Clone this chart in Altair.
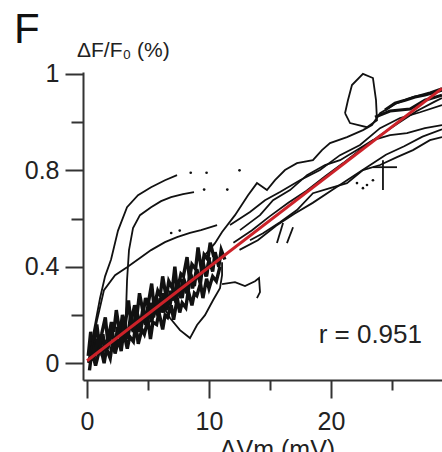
import altair as alt
import pandas as pd

# ---------------- data ----------------
# steep upper curve
a_x = [0.08, 0.33, 0.57, 1.07, 1.48, 1.97, 2.54, 3.28, 4.18, 5.25, 6.39, 7.38]
a_y = [0.004, 0.054, 0.137, 0.27, 0.36, 0.43, 0.55, 0.647, 0.697, 0.73, 0.759, 0.78]
# second curve (vertical rise then plateau)
b_x = [3.11, 3.2, 3.28, 3.44, 3.77, 4.34, 5.25, 6.07, 6.89, 7.87, 8.77]
b_y = [0.095, 0.22, 0.344, 0.469, 0.56, 0.614, 0.647, 0.672, 0.689, 0.701, 0.71]
# third, lower curve
c_x = [0.41, 0.82, 1.39, 2.30, 3.28, 4.34, 5.25, 6.39, 7.38, 8.44, 9.34, 10.66]
c_y = [0.075, 0.178, 0.303, 0.365, 0.398, 0.436, 0.469, 0.502, 0.523, 0.54, 0.552, 0.573]
# dense noisy cloud (jagged traces)
d_x = [0.1, 0.3, 0.5, 0.8, 1.0, 1.2, 1.5, 1.7, 2.0, 2.2, 2.4, 2.7, 2.9, 3.1, 3.4, 3.6, 3.9, 4.1, 4.3, 4.6, 4.8, 5.0,
       5.3, 5.5, 5.8, 6.0, 6.2, 6.5, 6.7, 7.0, 7.2, 7.4, 7.7, 7.9, 8.2, 8.4, 8.6, 8.9, 9.1, 9.4, 9.6, 9.9, 10.1, 10.4]
d_y = [0.03, 0.13, 0.06, 0.16, 0.08, 0.12, 0.19, 0.09, 0.17, 0.13, 0.22, 0.12, 0.20, 0.15, 0.26, 0.17, 0.24, 0.20, 0.29,
       0.21, 0.27, 0.24, 0.33, 0.23, 0.30, 0.28, 0.36, 0.27, 0.34, 0.31, 0.40, 0.30, 0.37, 0.36, 0.44, 0.35, 0.41, 0.39,
       0.48, 0.38, 0.45, 0.43, 0.50, 0.44]
e_x = [0.2, 0.4, 0.7, 0.9, 1.1, 1.4, 1.6, 1.9, 2.1, 2.3, 2.6, 2.8, 3.0, 3.3, 3.5, 3.8, 4.0, 4.2, 4.5, 4.7, 5.0, 5.2,
       5.4, 5.7, 5.9, 6.2, 6.4, 6.6, 6.9, 7.1, 7.4, 7.6, 7.8, 8.1, 8.3, 8.6, 8.8, 9.0, 9.3, 9.5, 9.8, 10.0, 10.3, 10.6, 10.9]
e_y = [-0.03, 0.05, -0.01, 0.03, 0.07, 0.0, 0.06, 0.02, 0.09, 0.04, 0.10, 0.05, 0.13, 0.06, 0.11, 0.09, 0.16, 0.08,
       0.14, 0.12, 0.18, 0.10, 0.17, 0.16, 0.21, 0.14, 0.20, 0.19, 0.24, 0.18, 0.27, 0.21, 0.25, 0.23, 0.30, 0.24, 0.29,
       0.28, 0.33, 0.27, 0.35, 0.31, 0.36, 0.34, 0.40]
f_x = [0.3, 0.5, 0.8, 1.0, 1.3, 1.5, 1.8, 2.0, 2.3, 2.5, 2.8, 3.0, 3.3, 3.5, 3.8, 4.0, 4.3, 4.5, 4.8, 5.0, 5.3, 5.5,
       5.8, 6.0, 6.3, 6.5, 6.8, 7.0, 7.3, 7.5, 7.8, 8.0, 8.3, 8.5, 8.8, 9.0, 9.3, 9.5, 9.8, 10.0, 10.3, 10.5, 10.8, 11.0, 11.3]
f_y = [0.09, 0.01, 0.10, 0.04, 0.12, 0.05, 0.10, 0.13, 0.06, 0.15, 0.09, 0.18, 0.10, 0.17, 0.13, 0.21, 0.13, 0.20,
       0.16, 0.24, 0.17, 0.23, 0.20, 0.27, 0.21, 0.29, 0.24, 0.30, 0.25, 0.33, 0.27, 0.34, 0.30, 0.37, 0.32, 0.39, 0.33,
       0.42, 0.36, 0.43, 0.38, 0.46, 0.40, 0.47, 0.43]
f2_x = [0.15, 0.45, 0.65, 0.95, 1.25, 1.45, 1.75, 2.05, 2.25, 2.55, 2.85, 3.05, 3.35, 3.65, 3.85, 4.15, 4.45, 4.65,
        4.95, 5.25, 5.45, 5.75, 6.05, 6.25, 6.55, 6.85, 7.05, 7.35, 7.65, 7.85, 8.15, 8.45, 8.65, 8.95, 9.25, 9.45, 9.75, 10.05]
f2_y = [0.0, 0.07, 0.04, 0.11, 0.03, 0.09, 0.07, 0.14, 0.08, 0.13, 0.10, 0.17, 0.11, 0.19, 0.14, 0.20, 0.15, 0.22,
        0.17, 0.25, 0.19, 0.26, 0.21, 0.29, 0.22, 0.30, 0.26, 0.33, 0.27, 0.35, 0.29, 0.37, 0.31, 0.38, 0.34, 0.41, 0.36, 0.44]
# downward excursion below the cloud
g_x = [5.98, 6.8, 7.62, 8.44, 9.02, 9.67, 10.33, 10.9, 11.07, 11.07]
g_y = [0.261, 0.187, 0.137, 0.104, 0.158, 0.199, 0.261, 0.311, 0.365, 0.419]
h_x = [11.07, 12.13, 12.95, 13.77, 14.1, 14.18, 13.93]
h_y = [0.328, 0.336, 0.32, 0.34, 0.353, 0.295, 0.27]
# upper zigzag toward top right
i_x = [9.67, 10.49, 11.07, 12.13, 13.2, 13.93, 14.75, 15.41, 16.23, 17.21, 18.52, 19.26, 19.92, 21.31, 22.62,
       23.36, 24.02, 25.41, 26.72, 28.11, 29.1]
i_y = [0.448, 0.498, 0.544, 0.614, 0.697, 0.747, 0.718, 0.759, 0.801, 0.830, 0.842, 0.884, 0.913, 0.938, 0.967,
       0.988, 1.037, 1.079, 1.104, 1.124, 1.141]
# loop at the top
j_x = [21.15, 21.39, 21.72, 22.62, 23.44, 23.69, 23.77, 22.95, 21.56, 21.15]
j_y = [1.037, 1.091, 1.154, 1.2, 1.183, 1.091, 1.008, 0.979, 0.996, 1.037]
# dark bundle at top right
k1_x = [24.43, 25.25, 26.07, 26.89, 27.7, 28.52, 29.1]
k1_y = [1.05, 1.079, 1.091, 1.104, 1.112, 1.124, 1.133]
k2_x = [23.61, 24.84, 26.48, 27.7, 29.1]
k2_y = [1.021, 1.046, 1.054, 1.091, 1.112]
# bundle of traces on the right
l_x = [13.36, 14.43, 15.82, 17.21, 18.52, 19.92, 21.31, 22.62, 24.02, 25.41, 26.72, 28.11, 29.1]
l_y = [0.51, 0.539, 0.585, 0.635, 0.705, 0.726, 0.747, 0.801, 0.822, 0.855, 0.884, 0.925, 0.938]
m_x = [12.54, 14.18, 15.25, 16.64, 18.03, 19.51, 20.74, 22.13, 23.44, 24.84, 26.23, 27.7, 29.1]
m_y = [0.552, 0.614, 0.676, 0.718, 0.780, 0.822, 0.842, 0.884, 0.925, 0.946, 0.954, 0.975, 0.988]
n_x = [11.72, 13.36, 14.59, 15.82, 17.46, 19.1, 20.74, 22.38, 24.02, 25.66, 27.3, 29.1]
n_y = [0.573, 0.627, 0.676, 0.71, 0.759, 0.801, 0.863, 0.905, 0.975, 1.017, 1.041, 1.071]
o_x = [12.0, 13.5, 15.0, 16.5, 18.0, 19.5, 21.0, 22.5, 24.0, 25.5, 27.0, 28.5, 29.1]
o_y = [0.50, 0.55, 0.61, 0.665, 0.715, 0.775, 0.83, 0.89, 0.945, 0.995, 1.045, 1.085, 1.10]
q_x = [12.5, 14.0, 15.5, 17.0, 18.5, 20.0, 21.5, 23.0, 24.5, 26.0, 27.5, 29.1]
q_y = [0.47, 0.51, 0.57, 0.62, 0.665, 0.715, 0.765, 0.815, 0.865, 0.90, 0.94, 0.97]
# small cross and short strokes
p1_x = [24.26, 24.26]
p1_y = [0.842, 0.718]
p2_x = [23.44, 25.41]
p2_y = [0.813, 0.813]
s1_x = [15.57, 16.07]
s1_y = [0.498, 0.581]
s2_x = [16.39, 16.89]
s2_y = [0.498, 0.564]
# scattered dots
dots_x = [8.5, 9.8, 12.5, 9.6, 11.5, 22.13, 22.95, 23.44, 22.62, 6.9, 7.6]
dots_y = [0.79, 0.79, 0.80, 0.72, 0.72, 0.747, 0.739, 0.759, 0.726, 0.54, 0.55]
# regression line end points
fit_x = [0.0, 29.1]
fit_y = [0.01, 1.14]

x_ticks = [0, 5, 10, 15, 20, 25]
y_ticks = [0, 0.2, 0.4, 0.6, 0.8, 1.0, 1.2]
panel_label = ["F"]
y_title = ["ΔF/F₀ (%)"]
r_text = ["r = 0.951"]

fine = {"a": (a_x, a_y), "b": (b_x, b_y), "c": (c_x, c_y), "g": (g_x, g_y), "h": (h_x, h_y),
        "i": (i_x, i_y), "j": (j_x, j_y), "l": (l_x, l_y), "m": (m_x, m_y), "n": (n_x, n_y),
        "o": (o_x, o_y), "q": (q_x, q_y),
        "p1": (p1_x, p1_y), "p2": (p2_x, p2_y), "s1": (s1_x, s1_y), "s2": (s2_x, s2_y)}
cloud = {"d": (d_x, d_y), "e": (e_x, e_y), "f": (f_x, f_y), "f2": (f2_x, f2_y)}
blob = {"k1": (k1_x, k1_y), "k2": (k2_x, k2_y)}


def frame(traces):
    rows = []
    for name, (xs, ys) in traces.items():
        for i, (xv, yv) in enumerate(zip(xs, ys)):
            rows.append({"trace": name, "idx": i, "x": xv, "y": yv})
    return pd.DataFrame(rows)


FONT = "Liberation Sans"
xscale = alt.Scale(domain=[-0.33, 29.1], nice=False, zero=False)
yscale = alt.Scale(domain=[-0.07, 1.208], nice=False, zero=False)

x_axis = alt.Axis(
    values=x_ticks,
    labelExpr="datum.value % 10 == 0 ? datum.label : ''",
    tickSize={"condition": {"test": "datum.value % 10 == 0", "value": 18}, "value": 10},
    labelPadding=11,
    title="ΔVm (mV)",
    titleFont=FONT, titleFontSize=25, titleFontWeight="normal", titleColor="#222",
    titleX=194, titleY=57, titleBaseline="top", titleAlign="center", titleAngle=0,
)
y_axis = alt.Axis(
    values=y_ticks,
    labelExpr="datum.value == 1.2 ? '1' : datum.value == 0 ? '0' : datum.value == 0.4 ? '0.4' : datum.value == 0.8 ? '0.8' : ''",
    tickSize={"condition": {"test": "datum.value == 0 || datum.value == 0.4 || datum.value == 0.8 || datum.value == 1.2",
                            "value": 18}, "value": 12},
    labelPadding=6,
    title=None,
)

X = alt.X("x:Q", scale=xscale, axis=x_axis)
Y = alt.Y("y:Q", scale=yscale, axis=y_axis)
Xs = alt.X("x:Q", scale=xscale)
Ys = alt.Y("y:Q", scale=yscale)

fine_lines = alt.Chart(frame(fine)).mark_line(color="#111", strokeWidth=1.8, clip=True).encode(
    x=X, y=Y, detail="trace:N", order="idx:Q")
cloud_lines = alt.Chart(frame(cloud)).mark_line(color="#111", strokeWidth=3.4, clip=True).encode(
    x=Xs, y=Ys, detail="trace:N", order="idx:Q")
blob_lines = alt.Chart(frame(blob)).mark_line(color="#111", strokeWidth=3.0, clip=True).encode(
    x=Xs, y=Ys, detail="trace:N", order="idx:Q")
dots = alt.Chart(pd.DataFrame({"x": dots_x, "y": dots_y})).mark_circle(color="#111", size=7, opacity=1).encode(
    x=Xs, y=Ys)
fit = alt.Chart(pd.DataFrame({"x": fit_x, "y": fit_y})).mark_line(color="#cc2229", strokeWidth=3, clip=True).encode(
    x=Xs, y=Ys)

panel = alt.Chart(pd.DataFrame({"t": panel_label})).mark_text(
    font=FONT, fontSize=42, align="left", baseline="alphabetic", color="#111").encode(
    x=alt.value(-69), y=alt.value(-29), text="t:N")
ytitle = alt.Chart(pd.DataFrame({"t": y_title})).mark_text(
    font=FONT, fontSize=21, align="left", baseline="alphabetic", color="#222").encode(
    x=alt.value(-6), y=alt.value(-15), text="t:N")
rlabel = alt.Chart(pd.DataFrame({"t": r_text})).mark_text(
    font=FONT, fontSize=26, align="right", baseline="alphabetic", color="#222").encode(
    x=alt.value(339), y=alt.value(271), text="t:N")

chart = alt.layer(cloud_lines, blob_lines, fine_lines, dots, fit, panel, ytitle, rlabel).properties(
    width=359, height=308,
    autosize=alt.AutoSizeParams(type="none"),
    padding={"left": 83, "top": 72, "right": 0, "bottom": 72},
).configure_view(stroke=None).configure_axis(
    grid=False, domainColor="#333", domainWidth=2, tickColor="#333", tickWidth=2,
    labelFont=FONT, labelFontSize=25, labelColor="#222",
)

chart.save("out.html", embed_options={"renderer": "svg", "actions": False})
